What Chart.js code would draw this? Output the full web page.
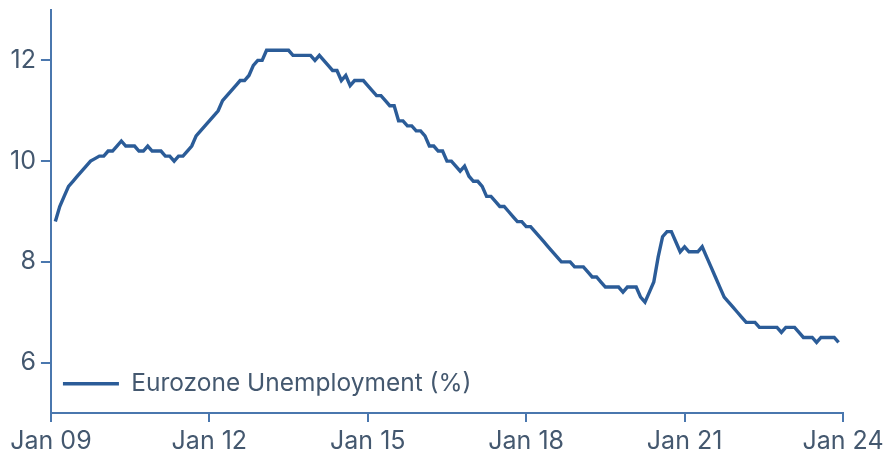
<!DOCTYPE html>
<html>
<head>
<meta charset="utf-8">
<script src="https://cdn.jsdelivr.net/npm/chart.js@4/dist/chart.umd.min.js"></script>
<style>
  body { margin: 0; background: #fff; }
  #wrap { width: 896px; height: 464px; }
</style>
</head>
<body>
<div id="wrap"><canvas id="myChart" width="896" height="464"></canvas></div>
<script>
// months counted from Jan 09 (0) to Jan 24 (180)
let tickMonths = [0, 36, 72, 108, 144, 180];
let tickLabels = ["Jan 09", "Jan 12", "Jan 15", "Jan 18", "Jan 21", "Jan 24"];
let yTicks = [6, 8, 10, 12];
let firstMonth = 1; // Feb 09

// Eurozone unemployment (%), monthly from Feb 09 to Dec 23
let rate2009 = [8.8, 9.1, 9.3, 9.5, 9.6, 9.7, 9.8, 9.9, 10.0, 10.05, 10.1];
let rate2010 = [10.1, 10.2, 10.2, 10.3, 10.4, 10.3, 10.3, 10.3, 10.2, 10.2, 10.3, 10.2];
let rate2011 = [10.2, 10.2, 10.1, 10.1, 10.0, 10.1, 10.1, 10.2, 10.3, 10.5, 10.6, 10.7];
let rate2012 = [10.8, 10.9, 11.0, 11.2, 11.3, 11.4, 11.5, 11.6, 11.6, 11.7, 11.9, 12.0];
let rate2013 = [12.0, 12.2, 12.2, 12.2, 12.2, 12.2, 12.2, 12.1, 12.1, 12.1, 12.1, 12.1];
let rate2014 = [12.0, 12.1, 12.0, 11.9, 11.8, 11.8, 11.6, 11.7, 11.5, 11.6, 11.6, 11.6];
let rate2015 = [11.5, 11.4, 11.3, 11.3, 11.2, 11.1, 11.1, 10.8, 10.8, 10.7, 10.7, 10.6];
let rate2016 = [10.6, 10.5, 10.3, 10.3, 10.2, 10.2, 10.0, 10.0, 9.9, 9.8, 9.9, 9.7];
let rate2017 = [9.6, 9.6, 9.5, 9.3, 9.3, 9.2, 9.1, 9.1, 9.0, 8.9, 8.8, 8.8];
let rate2018 = [8.7, 8.7, 8.6, 8.5, 8.4, 8.3, 8.2, 8.1, 8.0, 8.0, 8.0, 7.9];
let rate2019 = [7.9, 7.9, 7.8, 7.7, 7.7, 7.6, 7.5, 7.5, 7.5, 7.5, 7.4, 7.5];
let rate2020 = [7.5, 7.5, 7.3, 7.2, 7.4, 7.6, 8.1, 8.5, 8.6, 8.6, 8.4, 8.2];
let rate2021 = [8.3, 8.2, 8.2, 8.2, 8.3, 8.1, 7.9, 7.7, 7.5, 7.3, 7.2, 7.1];
let rate2022 = [7.0, 6.9, 6.8, 6.8, 6.8, 6.7, 6.7, 6.7, 6.7, 6.7, 6.6, 6.7];
let rate2023 = [6.7, 6.7, 6.6, 6.5, 6.5, 6.5, 6.4, 6.5, 6.5, 6.5, 6.5, 6.4];

let rates = [].concat(rate2009, rate2010, rate2011, rate2012, rate2013, rate2014, rate2015,
  rate2016, rate2017, rate2018, rate2019, rate2020, rate2021, rate2022, rate2023);

let points = [];
for (let i = 0; i < rates.length; i++) {
  points.push({ x: firstMonth + i, y: rates[i] });
}

const lineColor = "#2b5c98";
const axisColor = "#4a77ae";
const textColor = "#44586f";
const fontFamily = "Inter, 'Open Sans', sans-serif";

// legend sits inside the plot, nudge it down to the bottom-left corner
const legendShift = {
  id: "legendShift",
  afterLayout(chart) {
    chart.legend.top += 5;
    chart.legend.bottom += 5;
  },
};

function noLabelPadding(scale) {
  scale.paddingTop = 0;
  scale.paddingBottom = 0;
  scale.paddingLeft = 0;
  scale.paddingRight = 0;
}

const config = {
  type: "line",
  data: {
    datasets: [
      {
        label: "Eurozone Unemployment (%)",
        data: points,
        borderColor: lineColor,
        backgroundColor: lineColor,
        borderWidth: 3.4,
        pointRadius: 0,
        tension: 0,
        fill: false,
      },
    ],
  },
  options: {
    responsive: false,
    animation: false,
    layout: { padding: { left: 5, right: 53, top: 10, bottom: 4 } },
    plugins: {
      tooltip: { enabled: false },
      legend: {
        position: "chartArea",
        align: "end",
        labels: {
          usePointStyle: true,
          pointStyle: "line",
          pointStyleWidth: 56,
          boxHeight: 24,
          padding: 12,
          color: textColor,
          font: { family: fontFamily, size: 24.5, lineHeight: 1 },
        },
      },
    },
    scales: {
      x: {
        type: "linear",
        min: 0,
        max: 180,
        afterBuildTicks: (scale) => {
          scale.ticks = tickMonths.map((v) => ({ value: v }));
        },
        afterFit: noLabelPadding,
        ticks: {
          color: textColor,
          padding: 4,
          maxRotation: 0,
          font: { family: fontFamily, size: 25 },
          callback: (value) => tickLabels[tickMonths.indexOf(value)],
        },
        grid: {
          drawOnChartArea: false,
          drawTicks: true,
          tickLength: 9,
          color: axisColor,
          lineWidth: 2,
        },
        border: { display: true, color: axisColor, width: 2 },
      },
      y: {
        min: 5,
        max: 13,
        afterBuildTicks: (scale) => {
          scale.ticks = yTicks.map((v) => ({ value: v }));
        },
        afterFit: noLabelPadding,
        ticks: {
          color: textColor,
          padding: 5,
          font: { family: fontFamily, size: 25 },
        },
        grid: {
          drawOnChartArea: false,
          drawTicks: true,
          tickLength: 10,
          color: axisColor,
          lineWidth: 2,
        },
        border: { display: true, color: axisColor, width: 2 },
      },
    },
  },
  plugins: [legendShift],
};

const myChart = new Chart(document.getElementById("myChart"), config);
</script>
</body>
</html>
